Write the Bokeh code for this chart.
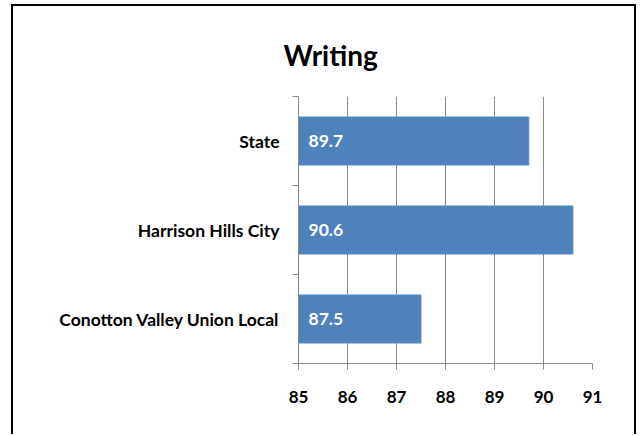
from bokeh.plotting import figure
from bokeh.models import Range1d, FixedTicker, LabelSet, ColumnDataSource
from bokeh.core.properties import value
from bokeh.embed import file_html
from bokeh.resources import INLINE

title_text = "Writing"
categories = ["Conotton Valley Union Local", "Harrison Hills City", "State"]
scores = [87.5, 90.6, 89.7]
x_ticks = [85, 86, 87, 88, 89, 90, 91]

FONT = "Lato"
GRAY = "#8a8a8a"
BLUE = "#4F81BD"

positions = [i + 0.5 for i in range(len(categories))]
src = ColumnDataSource(dict(
    y=positions,
    left=[x_ticks[0]] * len(scores),
    right=scores,
    label=[f"{v:.1f}" for v in scores],
))

W, H = 625, 430
ML, MT, FH = 285, 90, 267
p = figure(width=W, height=H, output_backend="svg", toolbar_location=None,
           x_range=Range1d(x_ticks[0], x_ticks[-1]), y_range=Range1d(0, len(categories)),
           min_border_left=ML, min_border_right=46, min_border_top=MT,
           min_border_bottom=H - MT - FH, title=title_text)

p.styles = {"border-top": "2px solid black", "border-left": "2px solid black",
            "border-right": "2px solid black", "margin-left": "11px", "margin-top": "4px"}
p.stylesheets = ["svg text { font-variant-ligatures: none !important; "
                 "font-feature-settings: 'liga' 0 !important; }"]

p.outline_line_color = None
p.background_fill_color = "white"
p.border_fill_color = "white"

p.hbar(y="y", left="left", right="right", height=0.54, source=src,
       fill_color=BLUE, line_color="#5a8ac4", line_width=1)

labels = LabelSet(x="left", y="y", text="label", source=src, x_offset=10,
                  text_baseline="middle", text_align="left", text_color="white",
                  text_font=value(FONT), text_font_style="bold", text_font_size="17.5px")
p.add_layout(labels)

# grid
p.xgrid.ticker = FixedTicker(ticks=x_ticks)
p.xgrid.grid_line_color = GRAY
p.xgrid.grid_line_width = 1
p.ygrid.grid_line_color = None

# x axis
xa = p.xaxis[0]
xa.ticker = FixedTicker(ticks=x_ticks)
xa.axis_line_color = GRAY
xa.major_tick_line_color = GRAY
xa.major_tick_in = 0
xa.major_tick_out = 6
xa.minor_tick_line_color = None
xa.major_label_text_font = FONT
xa.major_label_text_font_style = "bold"
xa.major_label_text_font_size = "17px"
xa.major_label_text_color = "black"
xa.major_label_standoff = 21

# y axis
ya = p.yaxis[0]
ya.ticker = FixedTicker(ticks=positions, minor_ticks=list(range(len(categories) + 1)))
ya.major_label_overrides = {pos: c for pos, c in zip(positions, categories)}
ya.axis_line_color = GRAY
ya.major_tick_line_color = None
ya.major_tick_in = 0
ya.major_tick_out = 0
ya.minor_tick_line_color = GRAY
ya.minor_tick_in = 0
ya.minor_tick_out = 6
ya.major_label_text_font = FONT
ya.major_label_text_font_style = "bold"
ya.major_label_text_font_size = "17.5px"
ya.major_label_text_color = "black"
ya.major_label_standoff = 13

# title
p.title.text_font = FONT
p.title.text_font_style = "bold"
p.title.text_font_size = "28px"
p.title.text_color = "black"
p.title.align = "left"
p.title.offset = -15
p.title.standoff = 49

open("out.html", "w").write(file_html(p, INLINE))
